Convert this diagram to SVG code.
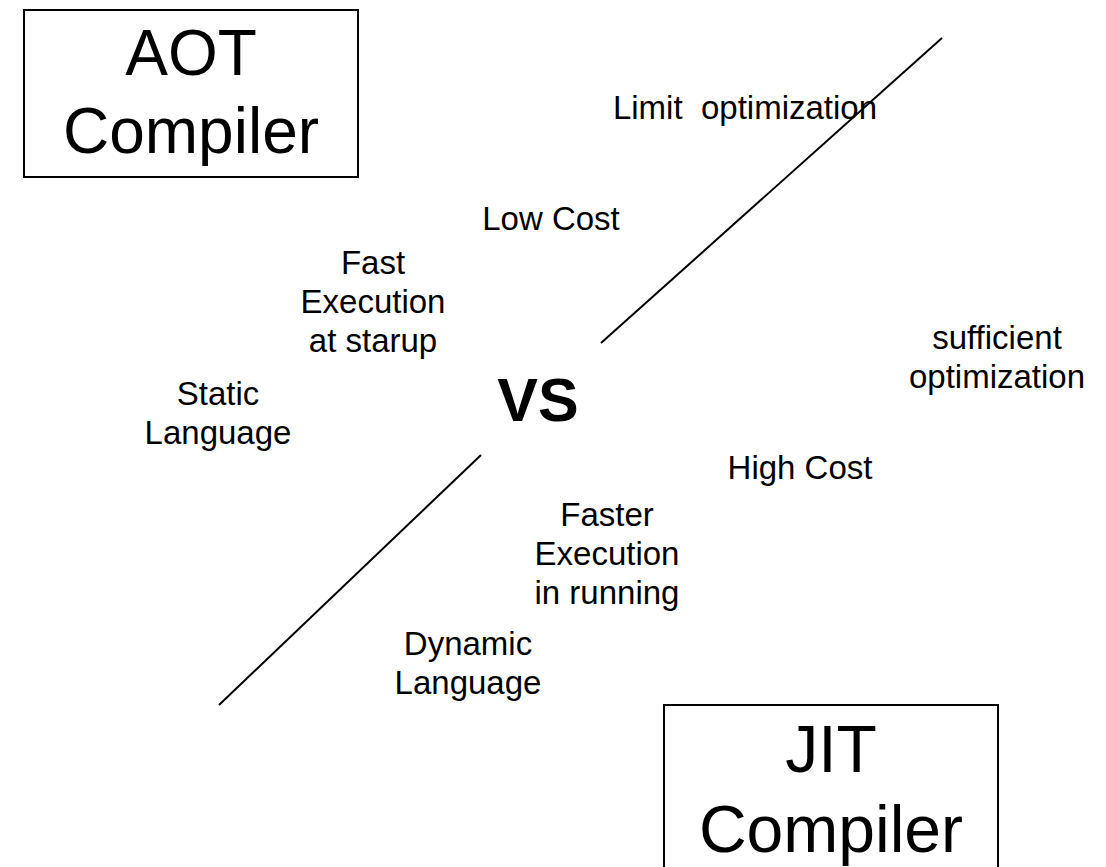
<svg xmlns="http://www.w3.org/2000/svg" width="1106" height="867" viewBox="0 0 1106 867">
<style>
.box{fill:#fff;stroke:#000;stroke-width:2}
.big{font-family:"Liberation Sans",Arial,sans-serif;font-size:64px;fill:#000;text-anchor:middle}
.big2{font-family:"Liberation Sans",Arial,sans-serif;font-size:66px;fill:#000;text-anchor:middle}
.t{font-family:"Liberation Sans",Arial,sans-serif;font-size:33px;fill:#000;text-anchor:middle}
.vs{font-family:"Liberation Sans",Arial,sans-serif;font-size:61px;font-weight:bold;fill:#000;text-anchor:middle}
.ln{stroke:#000;stroke-width:2;fill:none}
</style>
<rect width="1106" height="867" fill="#fff"/>
<g id="aot">
<rect class="box" x="24" y="10" width="334" height="167"/>
<text class="big" x="191" y="75">AOT</text>
<text class="big" x="191" y="153">Compiler</text>
</g>
<g id="jit">
<rect class="box" x="664" y="705" width="334" height="167"/>
<text class="big2" x="831" y="772">JIT</text>
<text class="big2" x="831" y="852">Compiler</text>
</g>
<g id="connectors">
<line class="ln" x1="601" y1="343" x2="942" y2="38"/>
<line class="ln" x1="219" y1="705" x2="481" y2="455"/>
</g>
<g id="vs"><text class="vs" x="538" y="421">VS</text></g>
<g id="limit"><text class="t" x="745" y="119">Limit&#160; optimization</text></g>
<g id="lowcost"><text class="t" x="551" y="230">Low Cost</text></g>
<g id="fast"><text class="t" x="373" y="274">Fast</text><text class="t" x="373" y="313">Execution</text><text class="t" x="373" y="352">at starup</text></g>
<g id="static"><text class="t" x="218" y="405">Static</text><text class="t" x="218" y="444">Language</text></g>
<g id="sufficient"><text class="t" x="997" y="349">sufficient</text><text class="t" x="997" y="388">optimization</text></g>
<g id="highcost"><text class="t" x="800" y="479">High Cost</text></g>
<g id="faster"><text class="t" x="607" y="526">Faster</text><text class="t" x="607" y="565">Execution</text><text class="t" x="607" y="604">in running</text></g>
<g id="dynamic"><text class="t" x="468" y="655">Dynamic</text><text class="t" x="468" y="694">Language</text></g>
</svg>
